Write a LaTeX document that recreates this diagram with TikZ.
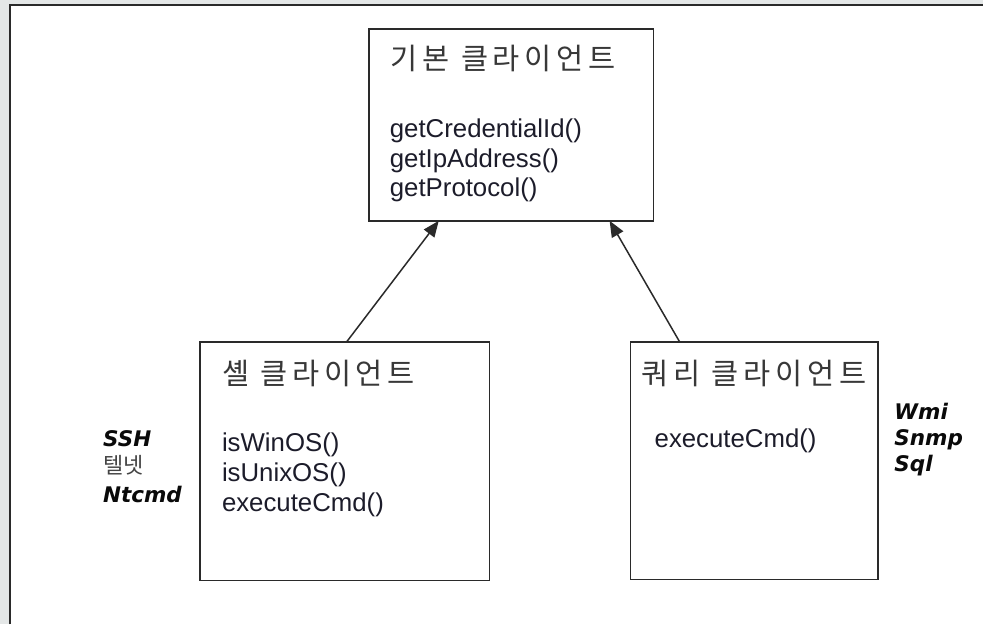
\documentclass[tikz,border=0pt]{standalone}
\usepackage{fontspec}
\setmainfont{Liberation Sans}
\newfontfamily\krfont{Noto Sans CJK KR}
\newfontfamily\krtitle[LetterSpace=16]{Noto Sans CJK KR}
\newfontfamily\tagfont{DejaVu Sans}
\usetikzlibrary{arrows.meta,calc}
\definecolor{pagegray}{HTML}{E4E7E7}
\definecolor{inkline}{HTML}{2A2A2A}
\definecolor{titleink}{HTML}{383838}
\definecolor{methodink}{HTML}{1C1C2A}
\definecolor{tagink}{HTML}{0A0A0A}
\definecolor{korgray}{HTML}{444444}
\tikzset{
  classbox/.style={draw=inkline, line width=1.6pt, fill=white, inner sep=0pt, outer sep=0pt},
  classtitle/.style={anchor=base west, inner sep=0pt, text=titleink,
    font=\krtitle\fontsize{29.5}{32}\selectfont},
  method/.style={anchor=base west, inner sep=0pt, text=methodink,
    font=\fontsize{25.8}{30}\selectfont},
  tag/.style={anchor=base west, inner sep=0pt, text=tagink,
    font=\tagfont\bfseries\itshape\fontsize{21.5}{24}\selectfont},
  kortag/.style={anchor=base west, inner sep=0pt, text=korgray,
    font=\krfont\fontsize{22}{24}\selectfont},
  inherit/.style={draw=inkline, line width=1.5pt,
    -{Triangle[length=16pt,width=13pt]}}
}
\begin{document}
\begin{tikzpicture}[x=1pt,y=-1pt]
  % page background and frame
  \fill[pagegray] (0,0) rectangle (984,625);
  \fill[white] (10,5) rectangle (984,625);
  \draw[inkline, line width=1.6pt] (10,625) -- (10,5) -- (984,5);
  \useasboundingbox (0,0) rectangle (984,625);

  % class boxes
  \node[classbox, minimum width=285pt, minimum height=192pt] (base) at (511.5,125) {};
  \node[classbox, minimum width=290pt, minimum height=239pt] (shell) at (345,461.5) {};
  \node[classbox, minimum width=248pt, minimum height=238pt] (query) at (755,461) {};

  % base client
  \node[classtitle] (baseTitle) at (391,70) {기본 클라이언트};
  \node[method] (m1) at (390,138) {getCredentialId()};
  \node[method] (m2) at (390,168) {getIpAddress()};
  \node[method] (m3) at (390,197) {getProtocol()};

  % shell client
  \node[classtitle] (shellTitle) at (222,385) {셸 클라이언트};
  \node[method] (s1) at (222,452) {isWinOS()};
  \node[method] (s2) at (222,482) {isUnixOS()};
  \node[method] (s3) at (222,512) {executeCmd()};

  % query client
  \node[classtitle] (queryTitle) at (642,385) {쿼리 클라이언트};
  \node[method] (q1) at (655,448) {executeCmd()};

  % protocol tags
  \node[tag] (tSSH) at (103,447) {SSH};
  \node[kortag] (tTel) at (103,474) {텔넷};
  \node[tag] (tNt) at (103,503) {Ntcmd};
  \node[tag] (tWmi) at (895,420) {Wmi};
  \node[tag] (tSnmp) at (895,446) {Snmp};
  \node[tag] (tSql) at (895,472) {Sql};

  % inheritance arrows
  \draw[inherit] ($(shell.north west)!0.507!(shell.north east)$)
              -- ($(base.south west)!0.246!(base.south east)$);
  \draw[inherit] ($(query.north west)!0.198!(query.north east)$)
              -- ($(base.south west)!0.846!(base.south east)$);
\end{tikzpicture}
\end{document}
